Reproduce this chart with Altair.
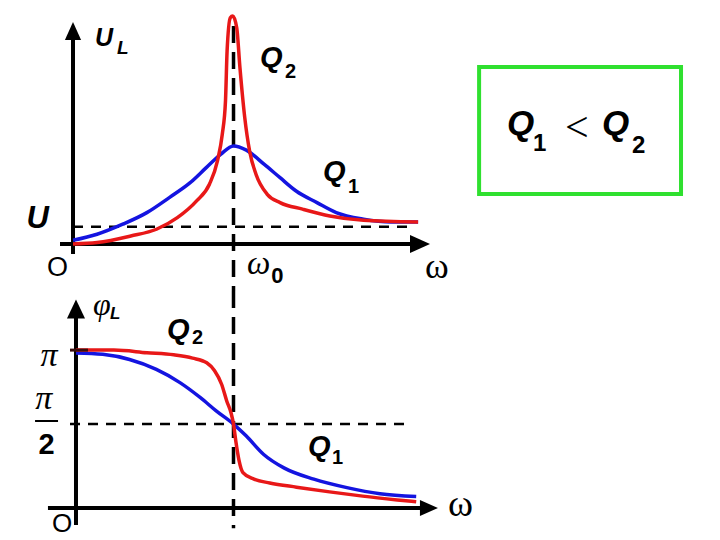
import altair as alt
import pandas as pd

BLUE = "#1414e0"
RED = "#e81818"
GREEN = "#2fe02f"
BLACK = "#000000"
SANS = "Liberation Sans"
SERIF = "Liberation Serif"

# ---------------- top panel: U_L versus omega (U = 1) ----------------
top_w_q1 = [0.00, 0.15, 0.31, 0.46, 0.60, 0.73, 0.83, 0.92, 1.00, 1.08, 1.19, 1.29,
            1.39, 1.52, 1.64, 1.81, 1.98, 2.15]
top_u_q1 = [0.21, 0.56, 1.14, 1.81, 2.68, 3.54, 4.41, 5.18, 5.66, 5.42, 4.61, 3.83,
            3.06, 2.39, 1.81, 1.43, 1.27, 1.27]
top_w_q2 = [0.00, 0.15, 0.36, 0.52, 0.65, 0.77, 0.85, 0.90, 0.93, 0.95, 0.96, 0.98,
            0.995, 1.02, 1.04, 1.07, 1.10, 1.14, 1.21, 1.29, 1.43, 1.60, 1.81, 2.15]
top_u_q2 = [0.00, 0.08, 0.46, 0.85, 1.52, 2.49, 3.45, 4.80, 6.34, 8.27, 11.16, 13.08,
            13.18, 12.50, 10.19, 7.30, 5.38, 4.03, 2.87, 2.39, 2.01, 1.62, 1.37, 1.27]

# ---------------- bottom panel: phi_L versus omega (radians) ----------------
bot_w_q1 = [0.00, 0.17, 0.34, 0.51, 0.66, 0.79, 0.89, 1.00, 1.08, 1.19, 1.32, 1.51,
            1.72, 1.93, 2.16]
bot_phi_q1 = [3.08, 3.05, 2.94, 2.73, 2.45, 2.13, 1.85, 1.57, 1.32, 0.93, 0.64, 0.40,
              0.22, 0.09, 0.03]
bot_w_q2 = [0.00, 0.24, 0.45, 0.62, 0.74, 0.83, 0.88, 0.925, 0.957, 0.985, 1.00, 1.015,
            1.035, 1.06, 1.13, 1.23, 1.40, 1.61, 1.82, 2.04, 2.16]
bot_phi_q2 = [3.14, 3.14, 3.085, 3.04, 2.97, 2.87, 2.70, 2.41, 2.06, 1.80, 1.57, 1.20,
              0.80, 0.54, 0.40, 0.32, 0.23, 0.13, 0.04, -0.04, -0.08]

# ---------------- annotation texts (text, x, y, font, size, style, weight, align) ----
top_texts = [
    ("U", 0.137, 11.45, SANS, 25, "italic", "bold", "left"),
    ("L", 0.274, 10.98, SANS, 19, "italic", "bold", "left"),
    ("Q", 1.165, 10.23, SANS, 29, "italic", "bold", "left"),
    ("2", 1.321, 9.60, SANS, 20, "normal", "bold", "left"),
    ("Q", 1.558, 3.64, SANS, 29, "italic", "bold", "left"),
    ("1", 1.713, 2.95, SANS, 20, "normal", "bold", "left"),
    ("U", -0.290, 0.925, SANS, 31, "italic", "bold", "left"),
    ("O", -0.162, -1.85, SANS, 27, "normal", "normal", "left"),
    ("ω", 1.084, -1.73, SERIF, 33, "italic", "normal", "left"),
    ("0", 1.235, -2.25, SANS, 22, "normal", "bold", "left"),
    ("ω", 2.193, -1.97, SERIF, 36, "normal", "normal", "left"),
    ("Q", 2.704, 6.30, SANS, 35, "italic", "bold", "left"),
    ("1", 2.866, 5.38, SANS, 24, "normal", "bold", "left"),
    ("<", 3.065, 5.94, SERIF, 42, "normal", "normal", "left"),
    ("Q", 3.296, 6.30, SANS, 35, "italic", "bold", "left"),
    ("2", 3.483, 5.26, SANS, 24, "normal", "bold", "left"),
]
bot_texts = [
    ("φ", 0.108, 3.885, SERIF, 32, "italic", "normal", "left"),
    ("L", 0.216, 3.80, SANS, 17, "italic", "bold", "left"),
    ("Q", 0.578, 3.376, SANS, 29, "italic", "bold", "left"),
    ("2", 0.737, 3.27, SANS, 20, "normal", "bold", "left"),
    ("Q", 1.473, 0.892, SANS, 29, "italic", "bold", "left"),
    ("1", 1.625, 0.722, SANS, 20, "normal", "bold", "left"),
    ("π", -0.225, 2.80, SERIF, 34, "italic", "normal", "left"),
    ("π", -0.258, 1.89, SERIF, 34, "italic", "normal", "left"),
    ("2", -0.187, 0.934, SANS, 29, "normal", "bold", "center"),
    ("ω", 2.362, -0.382, SERIF, 38, "normal", "normal", "left"),
    ("O", -0.152, -0.72, SANS, 26, "normal", "normal", "left"),
]

# green box (data units of the top panel)
box = dict(x=[2.53], x2=[3.788], y=[10.23], y2=[2.89])

TOP_XD = [-0.405, 3.981]
TOP_YD = [-2.72, 13.58]
BOT_XD = [-0.4317, 4.038]
BOT_YD = [-0.743, 4.395]
W = 704
H_TOP = 282
H_BOT = 242


def sc(d):
    return alt.Scale(domain=d, nice=False, zero=False)


def enc(xd, yd, two_x=False, two_y=False):
    e = dict(x=alt.X("x:Q", scale=sc(xd), axis=None),
             y=alt.Y("y:Q", scale=sc(yd), axis=None))
    if two_x:
        e["x2"] = "x2:Q"
    if two_y:
        e["y2"] = "y2:Q"
    return e


def curve(w, v, color, xd, yd):
    df = pd.DataFrame({"x": w, "y": v})
    return alt.Chart(df).mark_line(color=color, strokeWidth=3.5,
                                   interpolate="monotone").encode(**enc(xd, yd))


def hrule(x1, x2, y, xd, yd, width, dash=None, color=BLACK):
    df = pd.DataFrame({"x": [x1], "x2": [x2], "y": [y]})
    kw = dict(color=color, strokeWidth=width)
    if dash:
        kw["strokeDash"] = dash
    return alt.Chart(df).mark_rule(**kw).encode(**enc(xd, yd, two_x=True))


def vrule(x, y1, y2, xd, yd, width, dash=None, color=BLACK):
    df = pd.DataFrame({"x": [x], "y": [y1], "y2": [y2]})
    kw = dict(color=color, strokeWidth=width)
    if dash:
        kw["strokeDash"] = dash
    return alt.Chart(df).mark_rule(**kw).encode(**enc(xd, yd, two_y=True))


def arrow(x, y, path, size, xd, yd):
    df = pd.DataFrame({"x": [x], "y": [y]})
    return alt.Chart(df).mark_point(shape=path, size=size, filled=True, color=BLACK,
                                    opacity=1, strokeWidth=0).encode(**enc(xd, yd))


def texts(items, xd, yd):
    layers = []
    for t, x, y, font, size, style, weight, align in items:
        df = pd.DataFrame({"x": [x], "y": [y], "t": [t]})
        layers.append(alt.Chart(df).mark_text(
            font=font, fontSize=size, fontStyle=style, fontWeight=weight,
            align=align, baseline="alphabetic", color=BLACK
        ).encode(text="t:N", **enc(xd, yd)))
    return layers


UP = "M-0.9,1L0,-1L0.9,1Z"
RIGHT = "M-1,-0.9L1,0L-1,0.9Z"

top_layers = [
    vrule(1.0, 12.6, TOP_YD[0], TOP_XD, TOP_YD, 3.5, [17, 9]),
    hrule(0.0, 2.12, 1.0, TOP_XD, TOP_YD, 2.5, [10, 8]),
    vrule(0.0, -0.58, 12.0, TOP_XD, TOP_YD, 4),
    hrule(-0.081, 2.13, 0.0, TOP_XD, TOP_YD, 4),
    arrow(0.0, 12.31, UP, 324, TOP_XD, TOP_YD),
    arrow(2.162, 0.0, RIGHT, 400, TOP_XD, TOP_YD),
    curve(top_w_q1, top_u_q1, BLUE, TOP_XD, TOP_YD),
    curve(top_w_q2, top_u_q2, RED, TOP_XD, TOP_YD),
    alt.Chart(pd.DataFrame(box)).mark_rect(fill="white", fillOpacity=0, stroke=GREEN,
                                           strokeWidth=4).encode(
        **enc(TOP_XD, TOP_YD, two_x=True, two_y=True)),
] + texts(top_texts, TOP_XD, TOP_YD)

bot_layers = [
    vrule(1.0, BOT_YD[1], -0.64, BOT_XD, BOT_YD, 3.5, [17, 9]),
    hrule(-0.038, 2.12, 1.5708, BOT_XD, BOT_YD, 2.5, [10, 8]),
    vrule(0.0, -0.573, 3.85, BOT_XD, BOT_YD, 4),
    hrule(-0.178, 2.2, -0.212, BOT_XD, BOT_YD, 4),
    arrow(0.0, 4.013, "M-0.95,1L0,-1L0.95,1Z", 361, BOT_XD, BOT_YD),
    arrow(2.241, -0.212, RIGHT, 324, BOT_XD, BOT_YD),
    curve(bot_w_q1, bot_phi_q1, BLUE, BOT_XD, BOT_YD),
    curve(bot_w_q2, bot_phi_q2, RED, BOT_XD, BOT_YD),
    hrule(-0.038, 0.076, 3.14, BOT_XD, BOT_YD, 3, color="#3a0c0c"),
    hrule(-0.26, -0.114, 1.635, BOT_XD, BOT_YD, 2),
] + texts(bot_texts, BOT_XD, BOT_YD)

top = alt.layer(*top_layers).properties(width=W, height=H_TOP)
bottom = alt.layer(*bot_layers).properties(width=W, height=H_BOT)

chart = alt.vconcat(top, bottom, spacing=0, bounds="flush").properties(
    autosize=alt.AutoSizeParams(type="pad"),
    padding={"left": 0, "top": 0, "right": 0, "bottom": 6},
    background="white",
).configure_view(stroke=None)

chart.save("out.html", embed_options={"renderer": "svg", "actions": False})
